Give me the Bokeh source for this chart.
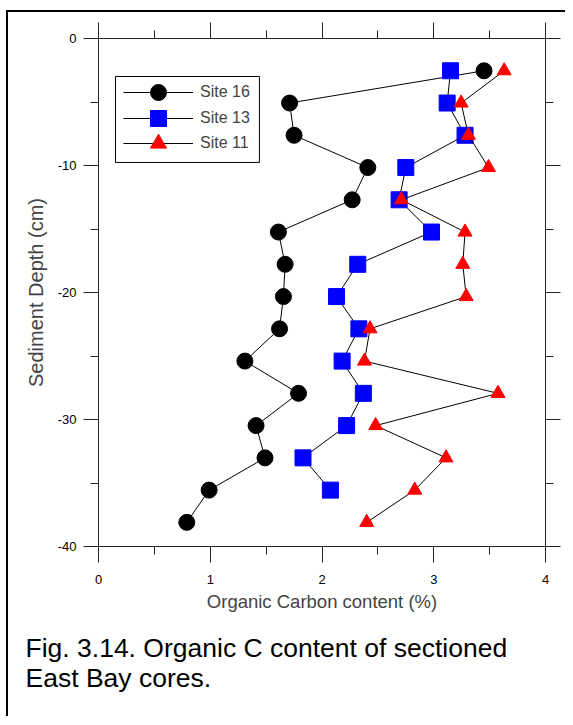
from bokeh.plotting import figure
from bokeh.models import (Range1d, LinearAxis, FixedTicker, Legend, LegendItem,
                          Title, BoxAnnotation)
from bokeh.embed import file_html
from bokeh.resources import INLINE

# ---- data ----
site16_depth = [-2.54, -5.08, -7.62, -10.16, -12.7, -15.24, -17.78, -20.32,
                -22.86, -25.4, -27.94, -30.48, -33.02, -35.56, -38.1]
site16_oc = [3.45, 1.71, 1.75, 2.41, 2.27, 1.61, 1.67, 1.655,
             1.62, 1.31, 1.79, 1.41, 1.49, 0.99, 0.79]

site13_depth = [-2.54, -5.08, -7.62, -10.16, -12.7, -15.24, -17.78, -20.32,
                -22.86, -25.4, -27.94, -30.48, -33.02, -35.56]
site13_oc = [3.15, 3.12, 3.28, 2.75, 2.69, 2.98, 2.32, 2.13,
             2.33, 2.18, 2.37, 2.22, 1.83, 2.075]

site11_depth = [-2.54, -5.08, -7.62, -10.16, -12.7, -15.24, -17.78, -20.32,
                -22.86, -25.4, -27.94, -30.48, -33.02, -35.56, -38.1]
site11_oc = [3.63, 3.245, 3.31, 3.49, 2.71, 3.28, 3.26, 3.29,
             2.43, 2.38, 3.575, 2.48, 3.11, 2.83, 2.40]

x_ticks = [0, 1, 2, 3, 4]
x_tick_labels = ["0", "1", "2", "3", "4"]
x_minor = [0.5, 1.5, 2.5, 3.5]
y_ticks = [0, -10, -20, -30, -40]
y_tick_labels = ["0", "-10", "-20", "-30", "-40"]
y_minor = [-5, -15, -25, -35]

series_names = ["Site 16", "Site 13", "Site 11"]
x_title = "Organic Carbon content (%)"
y_title = "Sediment Depth (cm)"
caption_text = "Fig. 3.14. Organic C content of sectioned\nEast Bay cores."

FONT = "Liberation Sans"

p = figure(frame_width=447, frame_height=508,
           x_range=Range1d(0, 4), y_range=Range1d(-40, 0),
           output_backend="svg", toolbar_location=None,
           min_border_left=90, min_border_top=26, min_border_right=20,
           min_border_bottom=170)
p.margin = (10, 0, 0, 6)
p.styles = {"border-left": "2px solid black", "border-top": "2px solid black"}
p.outline_line_color = None
p.xgrid.visible = False
p.ygrid.visible = False
p.background_fill_color = "white"
p.border_fill_color = "white"

AX_COLOR = "#222222"


def style_axis(ax, ticks, minor, labels, show_labels):
    ax.ticker = FixedTicker(ticks=ticks, minor_ticks=minor)
    ax.axis_line_color = AX_COLOR
    ax.major_tick_line_color = AX_COLOR
    ax.minor_tick_line_color = AX_COLOR
    ax.major_tick_in = 0
    ax.minor_tick_in = 0
    ax.major_tick_out = 15
    ax.minor_tick_out = 8
    if show_labels:
        ax.major_label_overrides = {t: l for t, l in zip(ticks, labels)}
        ax.major_label_text_font = FONT
        ax.major_label_text_font_size = "13px"
        ax.major_label_text_color = "black"
    else:
        ax.major_label_overrides = {t: "" for t in ticks}
        ax.major_label_text_font_size = "1px"


style_axis(p.xaxis[0], x_ticks, x_minor, x_tick_labels, True)
style_axis(p.yaxis[0], y_ticks, y_minor, y_tick_labels, True)
p.xaxis[0].major_tick_out = 16
p.xaxis[0].major_label_standoff = 12
p.yaxis[0].major_label_standoff = 7

p.xaxis[0].axis_label = x_title
p.xaxis[0].axis_label_text_font = FONT
p.xaxis[0].axis_label_text_font_size = "18.5px"
p.xaxis[0].axis_label_text_font_style = "normal"
p.xaxis[0].axis_label_standoff = 4

p.yaxis[0].axis_label = y_title
p.yaxis[0].axis_label_text_font = FONT
p.yaxis[0].axis_label_text_font_size = "20px"
p.yaxis[0].axis_label_text_font_style = "normal"
p.yaxis[0].axis_label_standoff = 8

top_ax = LinearAxis()
style_axis(top_ax, x_ticks, x_minor, x_tick_labels, False)
top_ax.major_tick_out = 16
p.add_layout(top_ax, "above")

right_ax = LinearAxis()
style_axis(right_ax, y_ticks, y_minor, y_tick_labels, False)
p.add_layout(right_ax, "right")

# ---- series ----
l16 = p.line(site16_oc, site16_depth, line_color="black", line_width=1)
s16 = p.scatter(site16_oc, site16_depth, marker="circle", size=16,
                fill_color="black", line_color="black")
l13 = p.line(site13_oc, site13_depth, line_color="black", line_width=1)
s13 = p.scatter(site13_oc, site13_depth, marker="square", size=16,
                fill_color="#0000ff", line_color="#0000ff")
l11 = p.line(site11_oc, site11_depth, line_color="black", line_width=1)
s11 = p.scatter(site11_oc, site11_depth, marker="triangle", size=14,
                fill_color="#ff0000", line_color="#ff0000")

# ---- legend: outer box drawn separately; one entry per row so the
#      sample markers keep full size with tight row spacing ----
legend_box = BoxAnnotation(left=0.152, right=1.44, top=-2.99, bottom=-9.76,
                           fill_color="white", fill_alpha=1,
                           line_color="black", line_width=1, line_alpha=1)
p.add_layout(legend_box)

row_offsets = [434, 408, 383]
for name, rends, vy in zip(series_names,
                           [[l16, s16], [l13, s13], [l11, s11]],
                           row_offsets):
    lg = Legend(items=[LegendItem(label=name, renderers=rends)],
                location=(25, vy))
    lg.border_line_color = None
    lg.background_fill_alpha = 0
    lg.padding = 0
    lg.spacing = 0
    lg.margin = 0
    lg.glyph_width = 70
    lg.glyph_height = 40
    lg.label_standoff = 7
    lg.label_text_font = FONT
    lg.label_text_font_size = "16px"
    lg.label_height = 20
    p.add_layout(lg)

# ---- caption ----
cap = Title(text=caption_text, align="left", offset=-73,
            text_font=FONT, text_font_size="26.5px", text_font_style="normal",
            text_color="black", standoff=33, text_line_height=1.0)
p.add_layout(cap, "below")

open("out.html", "w").write(file_html(p, INLINE))
